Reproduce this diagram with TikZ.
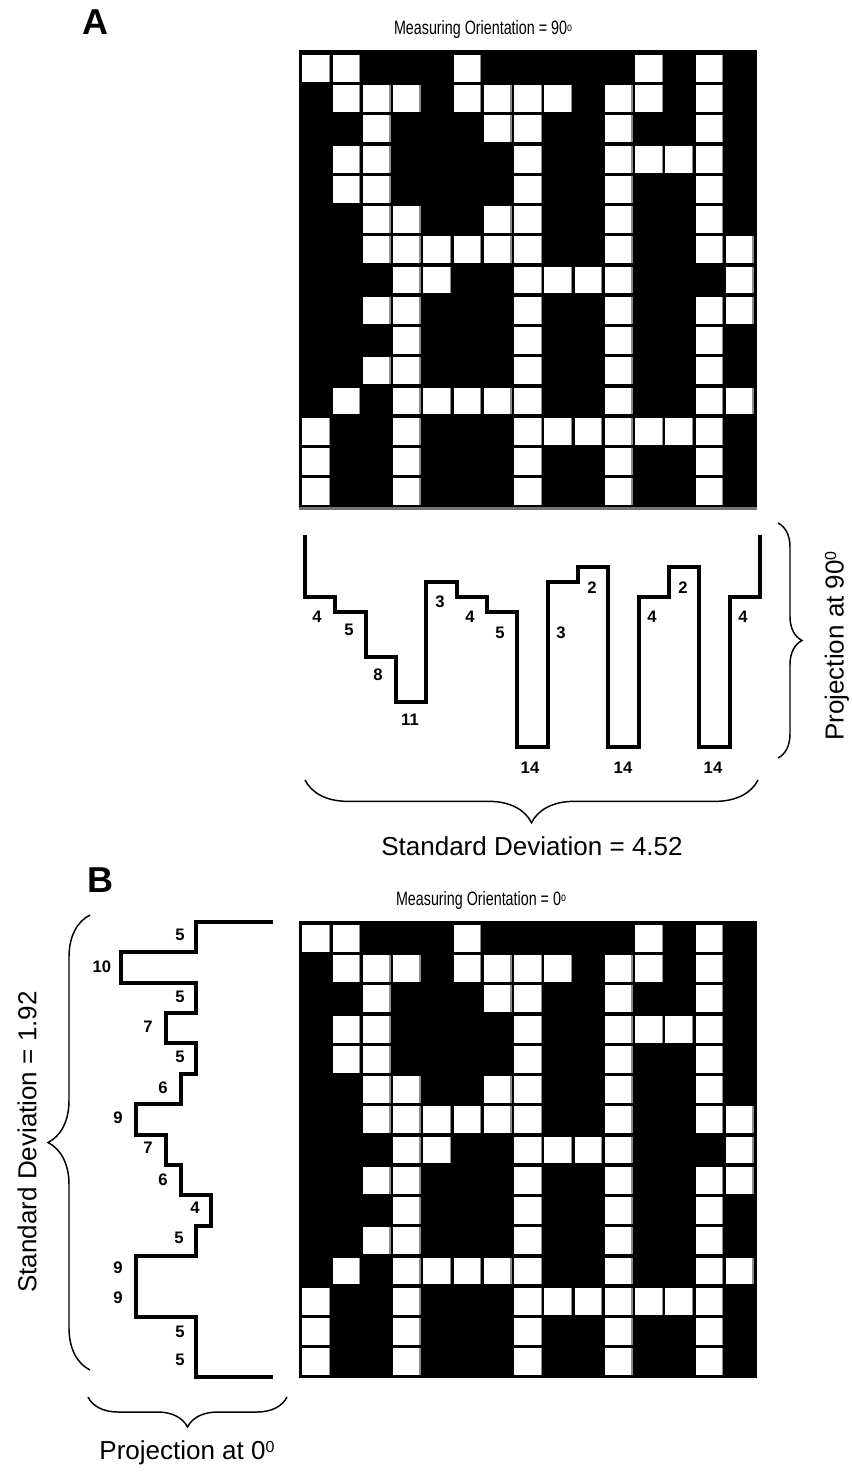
\documentclass[tikz,border=0pt]{standalone}
\usepackage{fontspec}
\setmainfont{Liberation Sans}
\newfontfamily\narrowsans{Liberation Sans}[FakeStretch=0.74]
\usetikzlibrary{decorations.pathreplacing}
\newcommand\whitecells{%
  \foreach \r/\cols in {0/{0,1,5,11,13},1/{1,2,3,5,6,7,8,10,11,13},2/{2,6,7,10,13},
    3/{1,2,7,10,11,12,13},4/{1,2,7,10,13},5/{2,3,6,7,10,13},6/{2,3,4,5,6,7,10,13,14},
    7/{3,4,7,8,9,10,14},8/{2,3,7,10,13,14},9/{3,7,10,13},10/{2,3,7,10,13},
    11/{1,3,4,5,6,7,10,13,14},12/{0,3,7,8,9,10,11,12,13},13/{0,3,7,10,13},14/{0,3,7,10,13}}{
    \foreach \c in \cols {
      \fill[white] ({302.3+30.26*\c},{55+30.24*\r}) rectangle ++(27.7,26.8);
      \fill[cellgray] ({302.3+30.26*\c+26.4},{55+30.24*\r}) rectangle ++(1.3,26.8);
    }
  }%
}
\begin{document}
\begin{tikzpicture}[x=0.75pt,y=-0.75pt,
  prof/.style={line width=3pt, line join=miter, line cap=rect},
  brc/.style={decorate, decoration={brace, amplitude=#1}, line width=1.1pt},
  num/.style={font=\fontsize{12.5}{14}\selectfont\bfseries, inner sep=0pt},
  big/.style={font=\fontsize{19.5}{22}\selectfont, inner sep=0pt},
  ttl/.style={font=\narrowsans\fontsize{14.5}{17}\selectfont, inner sep=0pt},
  panel/.style={font=\fontsize{27}{32}\selectfont\bfseries, inner sep=0pt}]
\colorlet{cellgray}{black!45}
\useasboundingbox (0,0) rectangle (852,1473);
\fill[white] (0,0) rectangle (852,1473);

% ---------- Panel A ----------
\node[panel] (labA) at (95,22) {A};
\node[ttl] (ttlA) at (483,30) {Measuring Orientation = 90\raisebox{.35ex}{\fontsize{9}{9}\selectfont o}};
\fill[black] (299,50) rectangle (757,507.3);
\fill[black!55] (299,507.3) rectangle (757,510.3);
\begin{scope}
  \whitecells
\end{scope}

% projection at 90
\draw[prof] (305,537) |- (335.3,597) |- (365.7,612) |- (396,657) |- (426.3,702)
  |- (456.7,582) |- (487,597) |- (517.3,612) |- (547.6,747) |- (578,582)
  |- (608.3,567) |- (638.6,747) |- (669,597) |- (699.3,567) |- (729.6,747)
  |- (760,597) -- (760,537);
\foreach \t/\x/\y [count=\i] in {4/317/617, 5/349/630, 8/378/675, 11/410/720, 3/440/602,
   4/470/617, 5/500/633, 14/530/768, 3/561/633, 2/592/588, 14/623/768, 4/652/617,
   2/683/588, 14/713/768, 4/743/617}
  \node[num] (na\i) at (\x,\y) {\t};

\coordinate (arT) at (778,523);
\coordinate (arB) at (778,758);
\draw[brc=18pt] (arT) -- (arB);
\node[big, rotate=90] (projA) at (837,646) {Projection at 90\raisebox{.55ex}{\fontsize{12}{12}\selectfont 0}};

\coordinate (abR) at (758,780);
\coordinate (abL) at (305,780);
\draw[brc=32pt] (abR) -- (abL);
\node[big] (sdA) at (532,846) {Standard Deviation = 4.52};

% ---------- Panel B ----------
\node[panel] (labB) at (100,880) {B};
\node[ttl] (ttlB) at (481,900) {Measuring Orientation = 0\raisebox{.35ex}{\fontsize{9}{9}\selectfont o}};
\fill[black] (299,921) rectangle (757,1378.3);
\begin{scope}[shift={(0,870)}]
  \whitecells
\end{scope}

% projection at 0
\draw[prof] (271,922) -| (196,952.4) -| (121,982.7) -| (196,1013.1) -| (166,1043.4)
  -| (196,1073.8) -| (181,1104.2) -| (136,1134.5) -| (166,1164.9) -| (181,1195.2)
  -| (211,1225.6) -| (196,1256) -| (136,1286.3) -| (136,1316.7) -| (196,1347)
  -| (196,1377.4) -- (271,1377.4);
\foreach \t/\x/\y [count=\i] in {5/180/935, 10/102/967, 5/180/997, 7/148/1027, 5/180/1057,
   6/163/1088, 9/118/1118, 7/148/1148, 6/163/1180, 4/195/1208, 5/179/1238,
   9/118/1268, 9/118/1298, 5/180/1332, 5/180/1360}
  \node[num] (nb\i) at (\x,\y) {\t};

\coordinate (blB) at (90,1370);
\coordinate (blT) at (90,915);
\draw[brc=31.5pt] (blB) -- (blT);
\node[big, rotate=90] (sdB) at (27,1142) {Standard Deviation = 1.92};

\coordinate (bbR) at (287,1397);
\coordinate (bbL) at (88,1397);
\draw[brc=22.5pt] (bbR) -- (bbL);
\node[big] (projB) at (187,1453) {Projection at 0\raisebox{.55ex}{\fontsize{12}{12}\selectfont 0}};
\end{tikzpicture}
\end{document}
